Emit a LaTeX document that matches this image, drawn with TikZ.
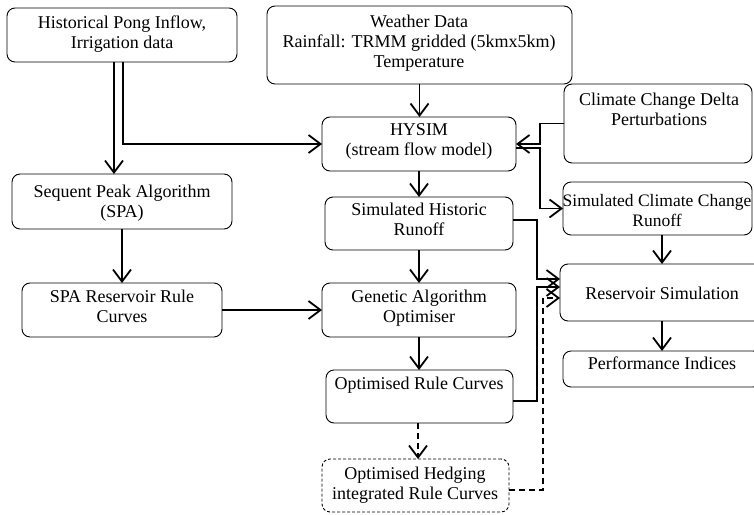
\documentclass[tikz,border=0pt]{standalone}
\usepackage{fontspec}
\setmainfont{Liberation Serif}
\usetikzlibrary{arrows.meta}
\begin{document}
\begin{tikzpicture}[x=1pt,y=-1pt,
  box/.style={draw, line width=0.9pt, rounded corners=8pt, inner sep=0pt, outer sep=0pt},
  dbox/.style={box, dash pattern=on 3pt off 2pt},
  txt/.style={anchor=north, inner sep=0pt, align=center, text=black,
    font=\fontsize{18}{20}\selectfont},
  arr/.style={line width=1.6pt, -{Straight Barb[length=12pt,width=18pt,line width=1.8pt]}},
  darr/.style={arr, dash pattern=on 6pt off 4pt}]
\useasboundingbox (0,0) rectangle (754,514);
\fill[white] (0,0) rectangle (754,514);
\clip (0,0) rectangle (754,514);
% boxes
\node[box, minimum width=230pt, minimum height=54pt] (hist) at (122,35) {};
\node[box, minimum width=305pt, minimum height=78pt] (weather) at (419.5,45) {};
\node[box, minimum width=194pt, minimum height=54pt] (hysim) at (419,144) {};
\node[box, minimum width=188pt, minimum height=79pt] (ccd) at (658,123.5) {};
\node[box, minimum width=189pt, minimum height=53pt] (sccr) at (657.5,208.5) {};
\node[box, minimum width=220pt, minimum height=55pt] (spa) at (122,201.5) {};
\node[box, minimum width=188pt, minimum height=53pt] (simhist) at (419,223.5) {};
\node[box, minimum width=200pt, minimum height=54pt] (sparc) at (122,310) {};
\node[box, minimum width=194pt, minimum height=54pt] (ga) at (419,310) {};
\node[box, minimum width=187pt, minimum height=53pt] (orc) at (419.5,396.5) {};
\node[dbox, minimum width=187pt, minimum height=53pt] (ohrc) at (415.5,485.5) {};
\node[box, minimum width=204pt, minimum height=57pt] (rs) at (662,292.5) {};
\node[box, minimum width=198pt, minimum height=36pt] (pi) at (662,369) {};
% texts
\node[txt] (histt) at (122,15.5) {Historical Pong Inflow,\\Irrigation data};
\node[txt] (weathert) at (419,14.5) {Weather Data\\Rainfall: TRMM gridded (5kmx5km)\\Temperature};
\node[txt] (hysimt) at (419,123.5) {HYSIM\\(stream flow model)};
\node[txt] (ccdt) at (659,92.5) {Climate Change Delta\\Perturbations};
\node[txt, font=\fontsize{17.5}{20}\selectfont] (sccrt) at (657,194.5) {Simulated Climate Change\\Runoff};
\node[txt] (spat) at (122,184.5) {Sequent Peak Algorithm\\(SPA)};
\node[txt] (simhistt) at (419,202.5) {Simulated Historic\\Runoff};
\node[txt] (sparct) at (122,289.5) {SPA Reservoir Rule\\Curves};
\node[txt] (gat) at (419,289.5) {Genetic Algorithm\\Optimiser};
\node[txt] (orct) at (419,376.5) {Optimised Rule Curves};
\node[txt] (ohrct) at (415,466.5) {Optimised Hedging\\integrated Rule Curves};
\node[txt] (rst) at (662,286.5) {Reservoir Simulation};
\node[txt] (pit) at (662,356.5) {Performance Indices};
% junction coordinates
\coordinate (jA) at (540,144);
\coordinate (jB) at (537,0);
\coordinate (jC) at (543,0);
\coordinate (jD) at (418,0);
\coordinate (r1) at ([yshift=13.5pt]rs.west);
\coordinate (r2) at ([yshift=5.5pt]rs.west);
\coordinate (r3) at ([yshift=-5.5pt]rs.west);
% connectors
\draw[arr] ([xshift=-8pt]hist.south) -- ([xshift=-8pt]hist.south |- spa.north);
\draw[arr] ([xshift=1pt]hist.south) |- (hysim.west);
\draw[arr] (weather.south) -- (weather.south |- hysim.north);
\draw[arr] (ccd.west) -| (jA) -- (hysim.east);
\draw[arr] ([yshift=-4pt]hysim.east) -- ([yshift=-4pt]hysim.east -| jA) |- (sccr.west);
\draw[arr] (hysim.south) -- (hysim.south |- simhist.north);
\draw[arr] (simhist.south) -- (simhist.south |- ga.north);
\draw[arr] (spa.south) -- (spa.south |- sparc.north);
\draw[arr] (sparc.east) -- (ga.west);
\draw[arr] (ga.south) -- (ga.south |- orc.north);
\draw[darr] (jD |- orc.south) -- (jD |- ohrc.north);
\draw[arr] ([yshift=3.5pt]simhist.east) -| (jB |- r1) -- (r1);
\draw[arr] ([yshift=-4.5pt]orc.east) -| (jB |- r2) -- (r2);
\draw[darr] ([yshift=-4.5pt]ohrc.east) -| (jC |- r3) -- (r3);
\draw[arr] (rs.north |- sccr.south) -- (rs.north);
\draw[arr] (rs.south) -- (pi.north);
\end{tikzpicture}
\end{document}
